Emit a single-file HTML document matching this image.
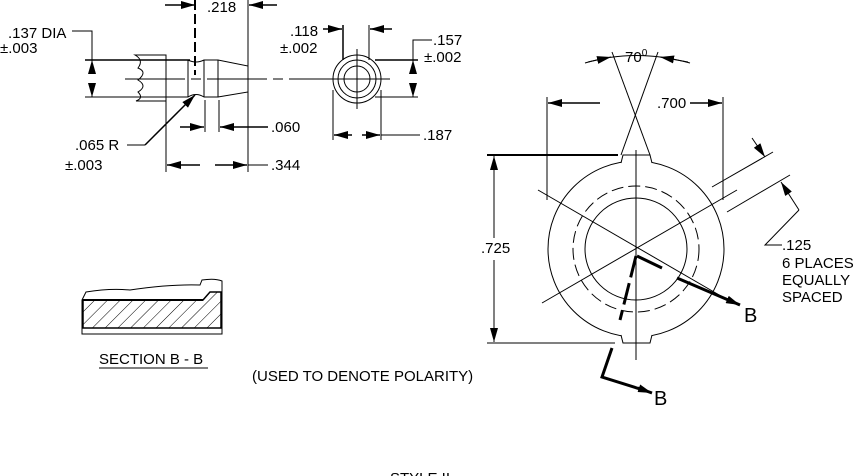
<!DOCTYPE html>
<html><head><meta charset="utf-8"><style>
html,body{margin:0;padding:0;background:#fff;}
svg{display:block}
text{font-family:"Liberation Sans",sans-serif;font-size:15px;fill:#000}
</style></head><body>
<svg width="854" height="476" viewBox="0 0 854 476" xmlns="http://www.w3.org/2000/svg">
<defs>
<marker id="a" viewBox="0 0 14 8" refX="14" refY="4" markerWidth="14" markerHeight="8" orient="auto" markerUnits="userSpaceOnUse"><path d="M0,0L14,4L0,8z" fill="#000"/></marker>
<pattern id="h" width="9" height="9" patternUnits="userSpaceOnUse" patternTransform="rotate(45)"><line x1="0" y1="0" x2="0" y2="9" stroke="#000" stroke-width="1"/></pattern>
</defs>
<g stroke="#000" stroke-width="1" fill="none">
<line x1="165" y1="5" x2="195" y2="5" marker-end="url(#a)" stroke-width="1.5"/>
<line x1="277" y1="5" x2="249" y2="5" marker-end="url(#a)" stroke-width="1.5"/>
<line x1="195" y1="0" x2="195" y2="75" stroke-width="2" stroke-dasharray="10,4"/>
<line x1="248" y1="0" x2="248" y2="172"/>
<polyline points="72,31 92,31 92,60"/>
<line x1="85" y1="60" x2="190" y2="60" stroke-width="1.5"/>
<line x1="85" y1="97" x2="166" y2="97"/>
<line x1="92" y1="74" x2="92" y2="60" marker-end="url(#a)"/>
<line x1="92" y1="83" x2="92" y2="97" marker-end="url(#a)"/>
<path d="M166,55 L135,55 Q144,60 138,68 Q148,72 138,80 Q148,86 138,92 Q144,98 136,101 L166,101 Z"/>
<path d="M166,60 L188,60 Q196,64 204,60 L218,60 L248,66 L248,92 L218,97 L204,97 Q196,92 188,97 L166,97"/>
<line x1="188" y1="60" x2="188" y2="97"/><line x1="204" y1="60" x2="204" y2="97"/><line x1="218" y1="60" x2="218" y2="97"/>
<line x1="125" y1="79" x2="390" y2="79" stroke-dasharray="60,6,10,6"/>
<line x1="145" y1="145" x2="195" y2="95" marker-end="url(#a)" stroke-width="1.5"/>
<line x1="127" y1="145" x2="145" y2="145"/>
<line x1="205" y1="100" x2="205" y2="132"/><line x1="219" y1="100" x2="219" y2="132"/>
<line x1="180" y1="127" x2="204" y2="127" marker-end="url(#a)" stroke-width="1.5"/>
<line x1="268" y1="127" x2="220" y2="127" marker-end="url(#a)" stroke-width="1.5"/>
<line x1="166" y1="100" x2="166" y2="172"/>
<line x1="200" y1="165" x2="167" y2="165" marker-end="url(#a)" stroke-width="1.5"/>
<line x1="215" y1="165" x2="247" y2="165" marker-end="url(#a)" stroke-width="1.5"/>
<line x1="248" y1="165" x2="268" y2="165"/>
<circle cx="357" cy="79" r="24"/><circle cx="357" cy="79" r="19"/><circle cx="357" cy="79" r="13"/>
<line x1="357" y1="49" x2="357" y2="109"/><line x1="327" y1="79" x2="390" y2="79"/>
<line x1="343" y1="25" x2="343" y2="60" stroke-width="1.5"/><line x1="369" y1="25" x2="369" y2="60"/>
<line x1="323" y1="29" x2="342" y2="29" marker-end="url(#a)" stroke-width="1.5"/>
<line x1="392" y1="29" x2="370" y2="29" marker-end="url(#a)" stroke-width="1.5"/>
<line x1="375" y1="60" x2="418" y2="60" stroke-width="1.5"/><line x1="375" y1="97" x2="418" y2="97"/>
<polyline points="432,40 413,40 413,60"/>
<line x1="413" y1="74" x2="413" y2="60" marker-end="url(#a)"/>
<line x1="413" y1="83" x2="413" y2="97" marker-end="url(#a)"/>
<line x1="333" y1="90" x2="333" y2="140"/><line x1="381" y1="90" x2="381" y2="140"/>
<line x1="352" y1="135" x2="334" y2="135" marker-end="url(#a)" stroke-width="1.5"/>
<line x1="362" y1="135" x2="380" y2="135" marker-end="url(#a)" stroke-width="1.5"/>
<line x1="381" y1="135" x2="420" y2="135"/>
<line x1="547" y1="97" x2="547" y2="200"/><line x1="723" y1="97" x2="723" y2="200"/>
<line x1="600" y1="103" x2="548" y2="103" marker-end="url(#a)" stroke-width="1.5"/>
<line x1="690" y1="103" x2="722" y2="103" marker-end="url(#a)" stroke-width="1.5"/>
<line x1="612" y1="52" x2="650" y2="155"/>
<line x1="658" y1="52" x2="621" y2="155"/>
<path d="M585,63 Q635,48 690,63"/>
<line x1="588" y1="62" x2="611" y2="57" marker-end="url(#a)"/>
<line x1="688" y1="62" x2="660" y2="57" marker-end="url(#a)"/>
<line x1="487" y1="155" x2="618" y2="155" stroke-width="2"/>
<line x1="487" y1="343" x2="615" y2="343"/>
<line x1="494" y1="180" x2="494" y2="156" marker-end="url(#a)"/>
<line x1="494" y1="320" x2="494" y2="342" marker-end="url(#a)"/>
<line x1="494" y1="170" x2="494" y2="238"/><line x1="494" y1="260" x2="494" y2="330"/>
<circle cx="636" cy="249" r="88"/>
<path d="M621,163 L623,155 L650,155 L652,163" fill="#fff"/>
<path d="M621,335 L623,343 L650,343 L652,335" fill="#fff"/>
<circle cx="636" cy="249" r="63" stroke-dasharray="12,5"/>
<circle cx="636" cy="249" r="51"/>
<line x1="636" y1="150" x2="636" y2="360"/>
<line x1="538" y1="190" x2="733" y2="303"/>
<line x1="542" y1="303" x2="737" y2="190"/>
<line x1="712" y1="187" x2="773" y2="152"/>
<line x1="727" y1="212" x2="790" y2="175"/>
<line x1="752" y1="138" x2="765" y2="157" marker-end="url(#a)"/>
<line x1="799" y1="210" x2="781" y2="182" marker-end="url(#a)"/>
<polyline points="799,210 765,245 782,245"/>
<polyline points="637,256 662,268" stroke-width="3"/>
<line x1="677" y1="278" x2="740" y2="305" stroke-width="3" marker-end="url(#a)"/>
<line x1="636" y1="256" x2="620" y2="320" stroke-width="3" stroke-dasharray="22,6"/>
<polyline points="612,348 602,377 640,389" stroke-width="3"/>
<line x1="638" y1="388" x2="652" y2="393" marker-end="url(#a)" stroke-width="3"/>
<path d="M82,300 L86,292 Q110,288 130,290 Q170,284 200,285 L202,280 Q215,278 222,281 L222,334 L82,334 Z"/>
<path d="M83,300 L203,300 L210,292 L221,292 L221,328 L83,328 Z" fill="url(#h)" stroke-width="1.5"/>
<line x1="82" y1="300" x2="203" y2="300" stroke-width="2"/>
<line x1="99" y1="368" x2="208" y2="368"/>
</g>
<text x="8" y="38">.137 DIA</text><text x="0" y="53">±.003</text>
<text x="207" y="12">.218</text>
<text x="75" y="150">.065  R</text><text x="65" y="170">±.003</text>
<text x="271" y="132">.060</text><text x="271" y="170">.344</text>
<text x="290" y="36">.118</text><text x="280" y="53">±.002</text>
<text x="433" y="45">.157</text><text x="424" y="62">±.002</text>
<text x="423" y="140">.187</text>
<text x="625" y="62">70<tspan dy="-6" style="font-size:10px">0</tspan></text>
<text x="657" y="108">.700</text>
<text x="481" y="253">.725</text>
<text x="782" y="250">.125</text><text x="782" y="268">6 PLACES</text><text x="782" y="285">EQUALLY</text><text x="782" y="302">SPACED</text>
<text x="744" y="322" style="font-size:20px">B</text><text x="654" y="405" style="font-size:20px">B</text>
<text x="99" y="364">SECTION  B - B</text>
<text x="252" y="381">(USED TO DENOTE POLARITY)</text>
<text x="390" y="483">STYLE II</text>
</svg>
</body></html>
